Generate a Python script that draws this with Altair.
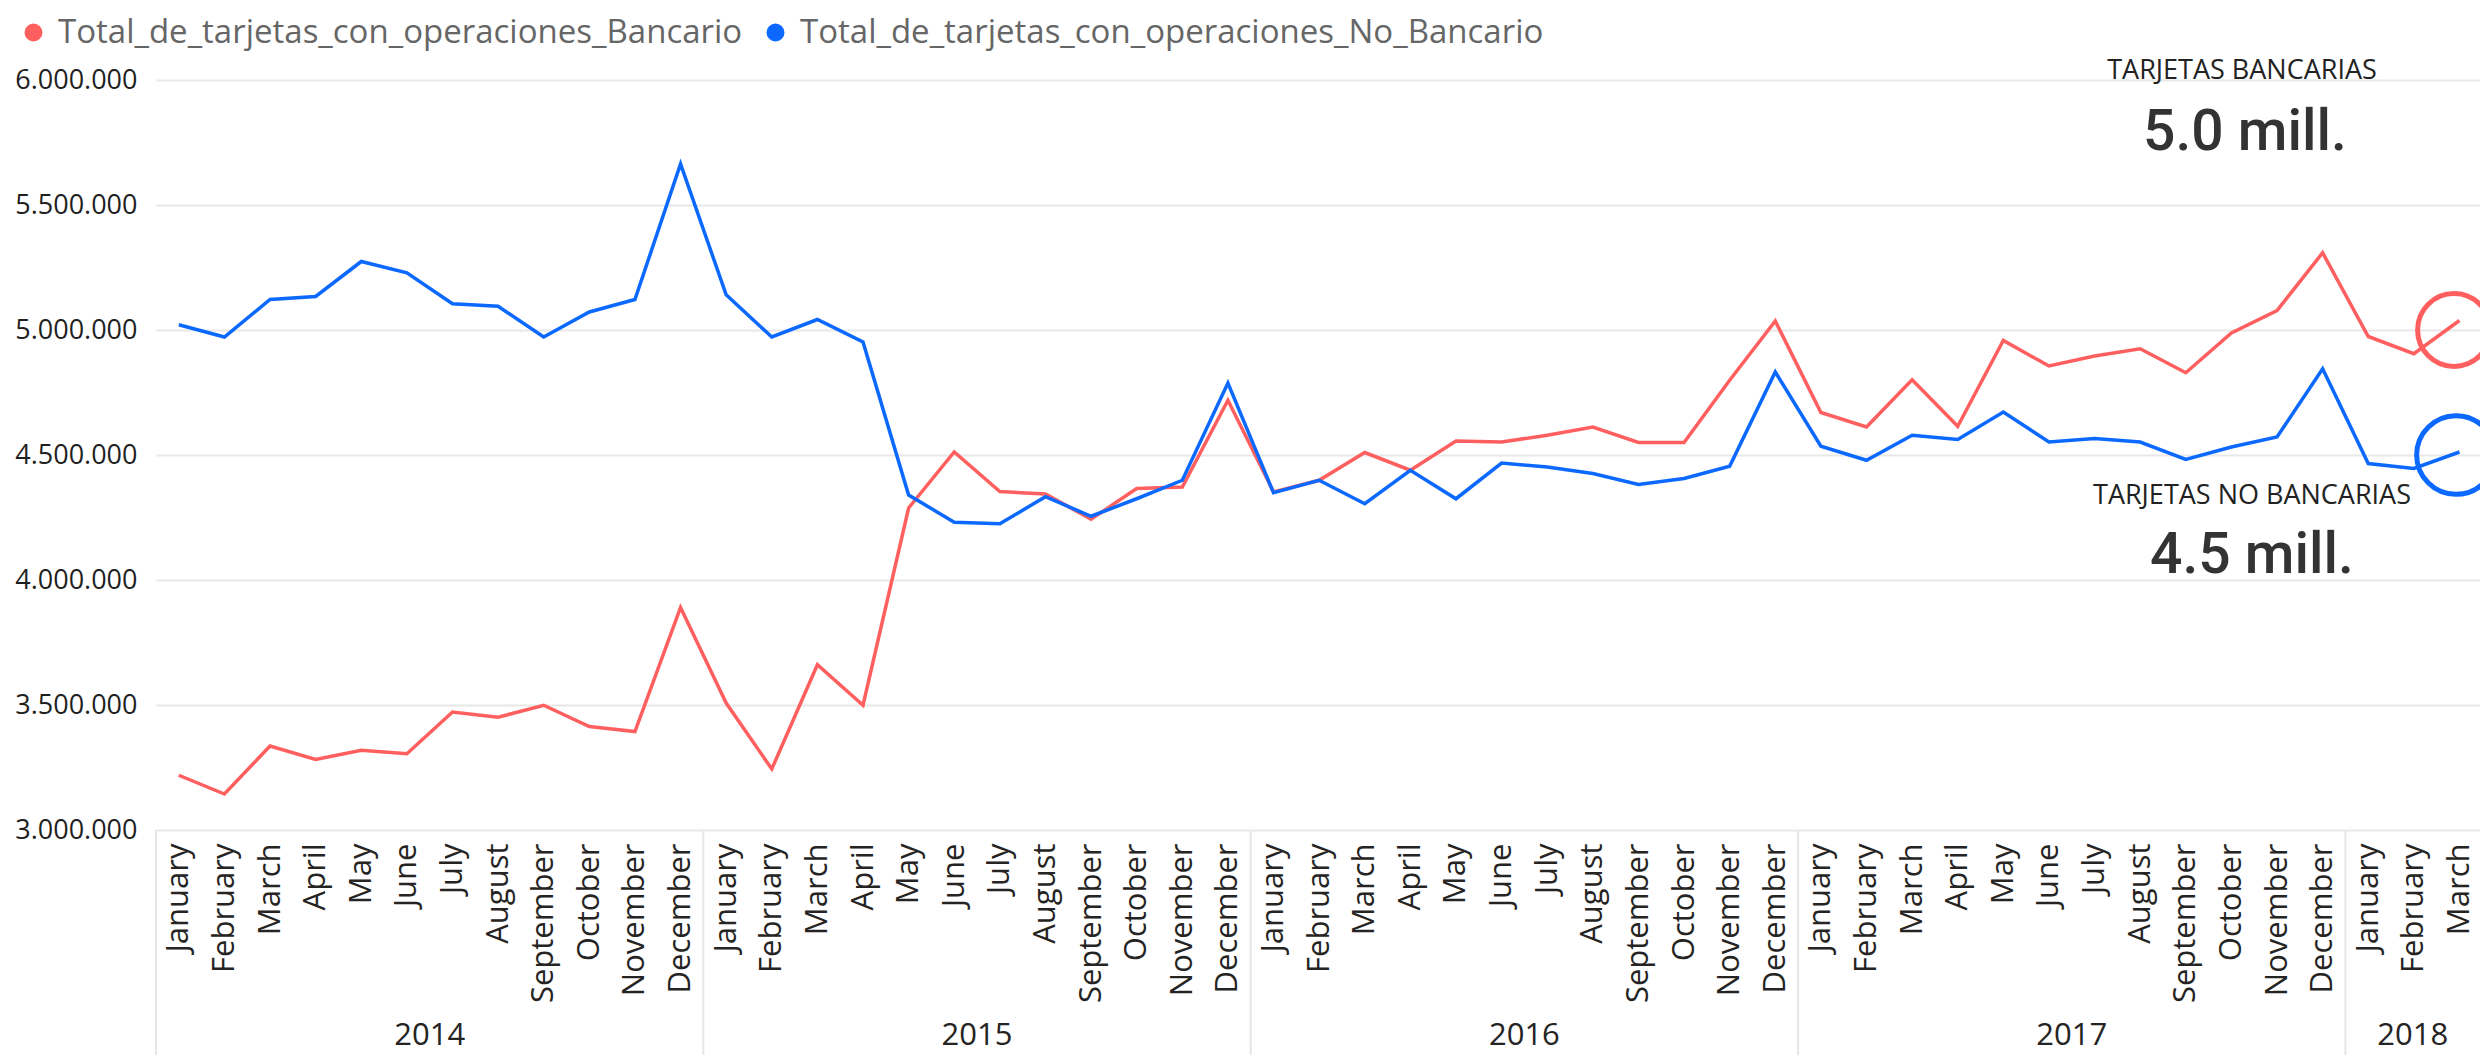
import altair as alt
import pandas as pd

# ---------------- data ----------------
MONTH_NAMES = ["January", "February", "March", "April", "May", "June", "July",
               "August", "September", "October", "November", "December"]
YEARS = ["2014", "2015", "2016", "2017", "2018"]
MONTHS_PER_YEAR = [12, 12, 12, 12, 3]

SERIES = ["Total_de_tarjetas_con_operaciones_Bancario",
          "Total_de_tarjetas_con_operaciones_No_Bancario"]

bancario = [3219000, 3144000, 3336000, 3282000, 3319000, 3305000, 3472000, 3451000, 3499000, 3414000, 3394000, 3890000,
            3508000, 3244000, 3661000, 3499000, 4288000, 4512000, 4354000, 4344000, 4243000, 4366000, 4372000, 4719000,
            4352000, 4399000, 4510000, 4439000, 4556000, 4552000, 4579000, 4612000, 4550000, 4550000, 4799000, 5036000,
            4670000, 4612000, 4801000, 4615000, 4958000, 4856000, 4896000, 4925000, 4829000, 4988000, 5078000, 5309000,
            4974000, 4905000, 5038000]

no_bancario = [5021000, 4972000, 5122000, 5134000, 5274000, 5229000, 5105000, 5095000, 4972000, 5072000, 5122000, 5664000,
               5141000, 4972000, 5042000, 4952000, 4340000, 4231000, 4225000, 4333000, 4255000, 4325000, 4399000, 4788000,
               4349000, 4399000, 4305000, 4439000, 4325000, 4468000, 4452000, 4426000, 4382000, 4406000, 4455000, 4832000,
               4535000, 4479000, 4579000, 4562000, 4672000, 4552000, 4566000, 4552000, 4482000, 4532000, 4572000, 4845000,
               4466000, 4446000, 4512000]

Y_TICKS = [3000000, 3500000, 4000000, 4500000, 5000000, 5500000, 6000000]

CARD_TITLES = ["TARJETAS BANCARIAS", "TARJETAS NO BANCARIAS"]
CARD_VALUES = ["5.0 mill.", "4.5 mill."]
CARD_LEVELS = [5000000, 4500000]

COLORS = ["#FF5F5F", "#0B69FF"]

# ---------------- tables ----------------
n = len(bancario)
rows = []
for i in range(n):
    rows.append({"idx": i, "serie": SERIES[0], "value": bancario[i]})
    rows.append({"idx": i, "serie": SERIES[1], "value": no_bancario[i]})
df = pd.DataFrame(rows)

W, H = 2324, 750
BOTTOM = 225
XMAX = 50.45  # right edge of visible x range (last band is cut by the frame)

starts, centers = [], []
s = 0
for m in MONTHS_PER_YEAR:
    lo = s - 0.5
    hi = min(s + m - 0.5, XMAX)
    starts.append(lo)
    centers.append((lo + hi) / 2)
    s += m
years_df = pd.DataFrame({"year": YEARS, "start": starts, "center": centers})

x_scale = alt.Scale(domain=[-0.5, XMAX], nice=False, zero=False)
y_scale = alt.Scale(domain=[3000000, 6000000], nice=False, zero=False)

month_arr = "[" + ",".join("'%s'" % m for m in MONTH_NAMES) + "]"

lines = alt.Chart(df).mark_line(strokeWidth=3.5, clip=True).encode(
    x=alt.X("idx:Q", scale=x_scale,
            axis=alt.Axis(values=list(range(n)), labelExpr=month_arr + "[datum.value % 12]",
                          labelAngle=270, labelAlign="right", labelBaseline="middle",
                          labelFont="Open Sans", labelFontSize=31, labelColor="#252423",
                          labelPadding=13, labelOverlap=False, labelFlush=False, labelBound=False,
                          grid=False, domain=False, ticks=False, title=None)),
    y=alt.Y("value:Q", scale=y_scale,
            axis=alt.Axis(values=Y_TICKS,
                          labelExpr="replace(replace(format(datum.value, ','), ',', '.'), ',', '.')",
                          labelFont="Open Sans", labelFontSize=27, labelColor="#1f1f1f",
                          labelPadding=19, grid=True, gridColor="#E8E8E8", gridWidth=2,
                          domain=False, ticks=False, title=None)),
    color=alt.Color("serie:N", scale=alt.Scale(domain=SERIES, range=COLORS),
                    legend=alt.Legend(orient="none", legendX=-139, legendY=-64,
                                      direction="horizontal", title=None,
                                      symbolType="circle", symbolSize=81, symbolStrokeWidth=9,
                                      labelFont="Open Sans", labelFontSize=33, labelColor="#666666",
                                      labelLimit=0, labelOffset=8, columnPadding=10, padding=0)),
)

separators = alt.Chart(years_df).mark_rule(color="#E6E6E6", strokeWidth=2).encode(
    x=alt.X("start:Q", scale=x_scale),
    y=alt.value(H),
    y2=alt.value(H + BOTTOM),
)

year_labels = alt.Chart(years_df).mark_text(
    font="Open Sans", fontSize=31, color="#252423", baseline="alphabetic", align="center"
).encode(
    x=alt.X("center:Q", scale=x_scale),
    y=alt.value(H + BOTTOM - 10),
    text="year:N",
)

def card_text(txt, x, y, size, font, color, weight="normal"):
    return alt.Chart(pd.DataFrame({"t": [txt]})).mark_text(
        font=font, fontSize=size, color=color, align="center", baseline="alphabetic",
        fontWeight=weight
    ).encode(x=alt.value(x), y=alt.value(y), text="t:N")

t1 = card_text(CARD_TITLES[0], 2086, -1, 27, "Open Sans", "#222222")
v1 = card_text(CARD_VALUES[0], 2089, 70, 57, "Roboto", "#333333", 500)
t2 = card_text(CARD_TITLES[1], 2096, 424, 27, "Open Sans", "#222222")
v2 = card_text(CARD_VALUES[1], 2096, 493, 57, "Roboto", "#333333", 500)

circ_red = alt.Chart(pd.DataFrame({"v": [CARD_LEVELS[0]]})).mark_point(
    shape="circle", filled=False, strokeWidth=5, color=COLORS[0], size=5300, opacity=1
).encode(x=alt.value(2298), y=alt.Y("v:Q", scale=y_scale))

circ_blue = alt.Chart(pd.DataFrame({"v": [CARD_LEVELS[1]]})).mark_point(
    shape="circle", filled=False, strokeWidth=5, color=COLORS[1], size=6200, opacity=1
).encode(x=alt.value(2300), y=alt.Y("v:Q", scale=y_scale))

chart = alt.layer(
    separators, lines, year_labels, t1, v1, t2, v2, circ_red, circ_blue
).properties(
    width=W, height=H,
    padding={"left": 148, "top": 72, "right": 0, "bottom": BOTTOM},
    autosize=alt.AutoSizeParams(type="none"),
    background="white",
).configure_view(stroke=None)

chart.save("out.html", embed_options={"renderer": "svg", "actions": False})
